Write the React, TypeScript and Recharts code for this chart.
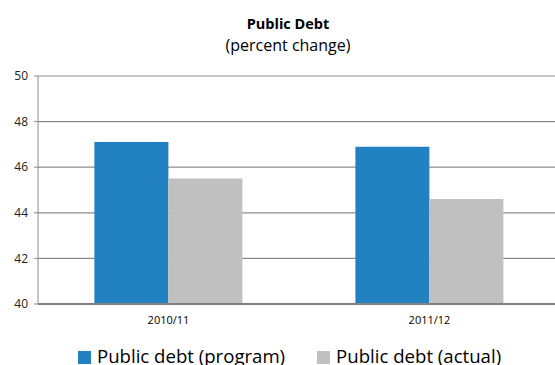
import { BarChart, Bar, XAxis, YAxis, CartesianGrid } from 'recharts'

const years = ['2010/11', '2011/12']
const program = [47.1, 46.9]
const actual = [45.5, 44.6]
const seriesNames = ['Public debt (program)', 'Public debt (actual)']
const seriesColors = ['#2281C1', '#C0C0C0']
const yTicks = [40, 42, 44, 46, 48, 50]

const data = years.map((y, i) => ({ year: y, program: program[i], actual: actual[i] }))

const font = '"Open Sans", Lato, sans-serif'

export default function App() {
  return (
    <div style={{ position: 'absolute', left: 0, top: 0, width: 555, height: 365, overflow: 'hidden', background: '#fff', fontFamily: font }}>
      <div style={{ position: 'absolute', left: 0, width: 576, top: 14, textAlign: 'center', fontSize: 14.5, fontWeight: 700, color: '#000' }}>
        Public Debt
      </div>
      <div style={{ position: 'absolute', left: 0, width: 576, top: 34, textAlign: 'center', fontSize: 16, color: '#000' }}>
        (percent change)
      </div>
      <BarChart
        width={570}
        height={365}
        data={data}
        margin={{ top: 76, right: 10, bottom: 31, left: 0 }}
        barCategoryGap="21.6%"
        barGap={0}
      >
        <CartesianGrid vertical={false} stroke="#8c8c8c" strokeWidth={1.2} />
        <XAxis
          dataKey="year"
          height={30}
          axisLine={{ stroke: '#808080', strokeWidth: 2 }}
          tickLine={false}
          tick={{ fontSize: 11, fill: '#000', fontFamily: font }}
          tickMargin={6}
        />
        <YAxis
          width={38}
          domain={[40, 50]}
          ticks={yTicks}
          interval={0}
          axisLine={{ stroke: '#8c8c8c' }}
          tickLine={{ stroke: '#8c8c8c' }}
          tickSize={4}
          tick={{ fontSize: 12, fill: '#222', fontFamily: font }}
          tickMargin={6}
        />
        <Bar dataKey="program" fill={seriesColors[0]} isAnimationActive={false} />
        <Bar dataKey="actual" fill={seriesColors[1]} isAnimationActive={false} />
      </BarChart>
      <div style={{ position: 'absolute', top: 343, left: 78, display: 'flex', alignItems: 'center', fontSize: 18.6, lineHeight: 'normal', color: '#000', whiteSpace: 'nowrap' }}>
        {seriesNames.map((n, i) => (
          <span key={n} style={{ display: 'inline-flex', alignItems: 'center', marginRight: i === 0 ? 32 : 0 }}>
            <span style={{ width: 13, height: 13, background: seriesColors[i], display: 'inline-block', marginRight: 6, position: 'relative', top: 2 }} />
            {n}
          </span>
        ))}
      </div>
    </div>
  )
}
